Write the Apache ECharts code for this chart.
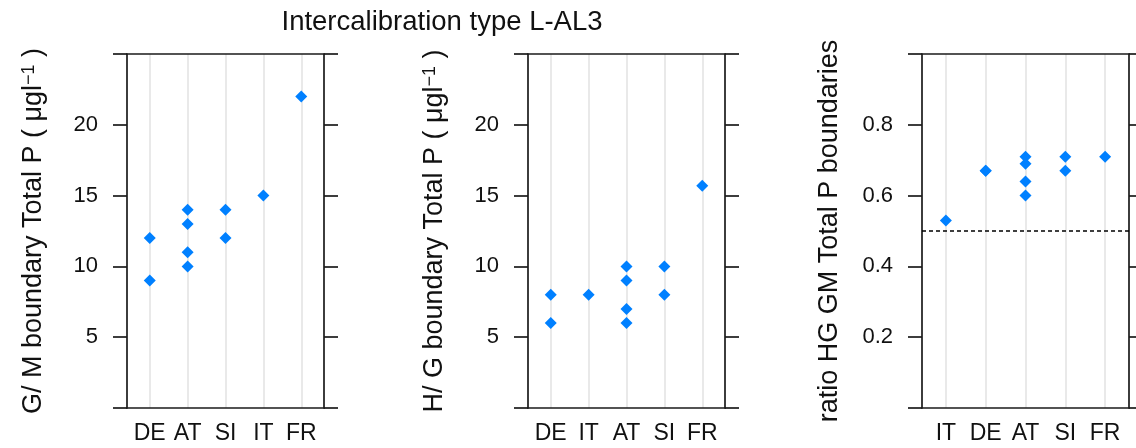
<!DOCTYPE html>
<html>
<head>
<meta charset="utf-8">
<script src="https://cdn.jsdelivr.net/npm/echarts@6/dist/echarts.min.js"></script>
<style>
html,body{margin:0;padding:0;background:#fff;}
#chart{width:1136px;height:448px;}
</style>
</head>
<body>
<div id="chart"></div>
<script>
// ---- data ----
const chartTitle = 'Intercalibration type L-AL3';

const gmCats = ['DE', 'AT', 'SI', 'IT', 'FR'];
const gmCountry = ['DE', 'DE', 'AT', 'AT', 'AT', 'AT', 'SI', 'SI', 'IT', 'FR'];
const gmValue = [12, 9, 14, 13, 11, 10, 14, 12, 15, 22];
const gmTicks = [5, 10, 15, 20];

const hgCats = ['DE', 'IT', 'AT', 'SI', 'FR'];
const hgCountry = ['DE', 'DE', 'IT', 'AT', 'AT', 'AT', 'AT', 'SI', 'SI', 'FR'];
const hgValue = [8, 6, 8, 10, 9, 7, 6, 10, 8, 15.7];
const hgTicks = [5, 10, 15, 20];

const ratioCats = ['IT', 'DE', 'AT', 'SI', 'FR'];
const ratioCountry = ['IT', 'DE', 'DE', 'AT', 'AT', 'AT', 'AT', 'SI', 'SI', 'FR'];
const ratioValue = [0.53, 0.67, 0.67, 0.71, 0.69, 0.64, 0.60, 0.71, 0.67, 0.71];
const ratioTicks = [0.2, 0.4, 0.6, 0.8];
const ratioRef = 0.5;

// ---- styling ----
const FONT = 'Liberation Sans, Arial, sans-serif';
const INK = '#111';
const PT = '#0080ff';
const lineStyle = { color: '#1a1a1a', width: 1.7 };

const panels = [
  { cats: gmCats, country: gmCountry, value: gmValue, ticks: gmTicks, max: 25, interval: 5,
    name: 'G/ M boundary Total P ( μgl{sup|−1} )', left: 127, width: 197, fmt: v => String(v) },
  { cats: hgCats, country: hgCountry, value: hgValue, ticks: hgTicks, max: 25, interval: 5,
    name: 'H/ G boundary Total P ( μgl{sup|−1} )', left: 528, width: 197, fmt: v => String(v) },
  { cats: ratioCats, country: ratioCountry, value: ratioValue, ticks: ratioTicks, max: 1, interval: 0.2,
    name: 'ratio HG GM Total P boundaries', left: 922, width: 207, fmt: v => v.toFixed(1), ref: ratioRef }
];

const catPos = [1, 2, 3, 4, 5];

const grids = [], xAxes = [], yAxes = [], series = [];
panels.forEach((p, i) => {
  grids.push({ left: p.left, top: 54, width: p.width, height: 354, containLabel: false });
  // bottom x axis (categories placed at 1..5)
  xAxes.push({
    type: 'value', gridIndex: i, position: 'bottom', min: 0.4, max: 5.6,
    axisLine: { show: true, lineStyle },
    axisTick: { show: false, customValues: catPos },
    axisLabel: { customValues: catPos, formatter: v => p.cats[Math.round(v) - 1] || '',
      color: INK, fontFamily: FONT, fontSize: 23, margin: 14 },
    splitLine: { show: true, lineStyle: { color: '#e2e2e2', width: 1.5 } }
  });
  // top border
  xAxes.push({
    type: 'value', gridIndex: i, position: 'top', min: 0.4, max: 5.6,
    axisLine: { show: true, onZero: false, lineStyle },
    axisTick: { show: false }, axisLabel: { show: false }, splitLine: { show: false }
  });
  // left y axis
  yAxes.push({
    type: 'value', gridIndex: i, position: 'left', min: 0, max: p.max, interval: p.interval,
    name: p.name, nameLocation: 'middle', nameRotate: 90, nameGap: 79,
    nameTextStyle: { color: INK, fontFamily: FONT, fontSize: 27,
      rich: { sup: { fontSize: 18, fontFamily: FONT, color: INK, verticalAlign: 'top', padding: [0, 0, 10, 0] } } },
    axisLine: { show: true, onZero: false, lineStyle },
    axisTick: { show: true, inside: false, length: 14, lineStyle },
    axisLabel: { customValues: p.ticks, formatter: p.fmt, color: INK, fontFamily: FONT, fontSize: 22, margin: 29 },
    splitLine: { show: false }
  });
  // right y axis
  yAxes.push({
    type: 'value', gridIndex: i, position: 'right', min: 0, max: p.max, interval: p.interval,
    axisLine: { show: true, onZero: false, lineStyle },
    axisTick: { show: true, inside: false, length: 14, lineStyle },
    axisLabel: { show: false }, splitLine: { show: false }
  });
  const s = {
    type: 'scatter', xAxisIndex: 2 * i, yAxisIndex: 2 * i,
    symbol: 'diamond', symbolSize: [12, 12],
    itemStyle: { color: PT, opacity: 1 },
    data: p.country.map((c, k) => [p.cats.indexOf(c) + 1, p.value[k]]),
    z: 3
  };
  if (p.ref !== undefined) {
    s.markLine = {
      silent: true, symbol: 'none', animation: false,
      label: { show: false },
      lineStyle: { color: '#000', width: 1.6, type: [4, 3] },
      data: [{ yAxis: p.ref }]
    };
  }
  series.push(s);
});

const chart = echarts.init(document.getElementById('chart'), null, { renderer: 'canvas' });
chart.setOption({
  animation: false,
  backgroundColor: '#fff',
  title: {
    text: chartTitle, left: 437, top: 3, textAlign: 'center',
    textStyle: { color: INK, fontFamily: FONT, fontSize: 27.5, fontWeight: 'normal' }
  },
  grid: grids, xAxis: xAxes, yAxis: yAxes, series
});
</script>
</body>
</html>
